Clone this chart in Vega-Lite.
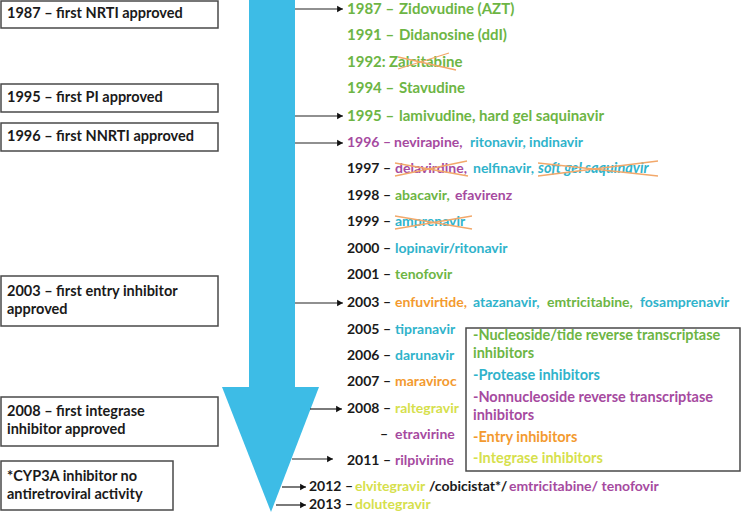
{
  "$schema": "https://vega.github.io/schema/vega-lite/v6.json",
  "width": 742,
  "height": 516,
  "padding": 0,
  "autosize": "none",
  "background": "white",
  "config": {"view": {"stroke": null}},
  "datasets": {
    "boxes": [
      {"x": 1, "x2": 218, "y": 1, "y2": 28},
      {"x": 1, "x2": 218, "y": 84, "y2": 112},
      {"x": 1, "x2": 218, "y": 123, "y2": 151},
      {"x": 1, "x2": 218, "y": 276, "y2": 326},
      {"x": 1, "x2": 218, "y": 397, "y2": 446},
      {"x": 1, "x2": 173, "y": 461, "y2": 510},
      {"x": 466, "x2": 740, "y": 328, "y2": 471}
    ],
    "boxtext": [
      {"x": 7, "y": 14, "text": "1987 – first NRTI approved"},
      {"x": 7, "y": 98, "text": "1995 – first PI approved"},
      {"x": 7, "y": 137, "text": "1996 – first NNRTI approved"},
      {"x": 7, "y": 292, "text": "2003 – first entry inhibitor"},
      {"x": 7, "y": 310, "text": "approved"},
      {"x": 7, "y": 412, "text": "2008 – first integrase"},
      {"x": 7, "y": 430, "text": "inhibitor approved"},
      {"x": 7, "y": 477, "text": "*CYP3A inhibitor no"},
      {"x": 7, "y": 495, "text": "antiretroviral activity"}
    ],
    "shaft": [{"x": 249, "x2": 295, "y": 0, "y2": 388}],
    "head": [
      {"y": 387, "x": 222, "x2": 319},
      {"y": 512, "x": 271, "x2": 271}
    ],
    "arrows": [
      {"x": 295, "x2": 343, "y": 9},
      {"x": 295, "x2": 343, "y": 116},
      {"x": 295, "x2": 343, "y": 143},
      {"x": 295, "x2": 343, "y": 303},
      {"x": 310, "x2": 342, "y": 409},
      {"x": 292, "x2": 333, "y": 459},
      {"x": 282, "x2": 306, "y": 487},
      {"x": 276, "x2": 306, "y": 505}
    ],
    "strikes": [
      {"x": 398, "y": 57, "x2": 456, "y2": 70},
      {"x": 398, "y": 69, "x2": 449, "y2": 53},
      {"x": 395, "y": 163, "x2": 468, "y2": 176},
      {"x": 395, "y": 176, "x2": 467, "y2": 161},
      {"x": 538, "y": 163, "x2": 658, "y2": 176},
      {"x": 538, "y": 176, "x2": 658, "y2": 161},
      {"x": 395, "y": 216, "x2": 472, "y2": 229},
      {"x": 395, "y": 229, "x2": 472, "y2": 216}
    ],
    "top": [
      {"x": 347, "y": 9, "text": "1987 –", "cls": "NRTI"},
      {"x": 399, "y": 9, "text": "Zidovudine (AZT)", "cls": "NRTI"},
      {"x": 347, "y": 35, "text": "1991 –", "cls": "NRTI"},
      {"x": 399, "y": 35, "text": "Didanosine (ddI)", "cls": "NRTI"},
      {"x": 347, "y": 62, "text": "1992:", "cls": "NRTI"},
      {"x": 389, "y": 62, "text": "Zalcitabine", "cls": "NRTI"},
      {"x": 347, "y": 88, "text": "1994 –", "cls": "NRTI"},
      {"x": 399, "y": 88, "text": "Stavudine", "cls": "NRTI"},
      {"x": 347, "y": 116, "text": "1995 –", "cls": "NRTI"},
      {"x": 399, "y": 116, "text": "lamivudine, hard gel saquinavir", "cls": "NRTI"}
    ],
    "entries": [
      {"x": 347, "y": 143, "text": "1996 –", "cls": "NNRTI"},
      {"x": 394, "y": 143, "text": "nevirapine,", "cls": "NNRTI"},
      {"x": 470, "y": 143, "text": "ritonavir, indinavir", "cls": "PI"},
      {"x": 347, "y": 169, "text": "1997 –", "cls": "none"},
      {"x": 395, "y": 169, "text": "delavirdine,", "cls": "NNRTI"},
      {"x": 473, "y": 169, "text": "nelfinavir,", "cls": "PI"},
      {"x": 347, "y": 196, "text": "1998 –", "cls": "none"},
      {"x": 395, "y": 196, "text": "abacavir,", "cls": "NRTI"},
      {"x": 455, "y": 196, "text": "efavirenz", "cls": "NNRTI"},
      {"x": 347, "y": 222, "text": "1999 –", "cls": "none"},
      {"x": 395, "y": 222, "text": "amprenavir", "cls": "PI"},
      {"x": 347, "y": 249, "text": "2000 –", "cls": "none"},
      {"x": 395, "y": 249, "text": "lopinavir/ritonavir", "cls": "PI"},
      {"x": 347, "y": 275, "text": "2001 –", "cls": "none"},
      {"x": 395, "y": 275, "text": "tenofovir", "cls": "NRTI"},
      {"x": 347, "y": 303, "text": "2003 –", "cls": "none"},
      {"x": 395, "y": 303, "text": "enfuvirtide,", "cls": "Entry"},
      {"x": 473, "y": 303, "text": "atazanavir,", "cls": "PI"},
      {"x": 547, "y": 303, "text": "emtricitabine,", "cls": "NRTI"},
      {"x": 640, "y": 303, "text": "fosamprenavir", "cls": "PI"},
      {"x": 347, "y": 330, "text": "2005 –", "cls": "none"},
      {"x": 395, "y": 330, "text": "tipranavir", "cls": "PI"},
      {"x": 347, "y": 356, "text": "2006 –", "cls": "none"},
      {"x": 395, "y": 356, "text": "darunavir", "cls": "PI"},
      {"x": 347, "y": 382, "text": "2007 –", "cls": "none"},
      {"x": 395, "y": 382, "text": "maraviroc", "cls": "Entry"},
      {"x": 347, "y": 409, "text": "2008 –", "cls": "none"},
      {"x": 395, "y": 409, "text": "raltegravir", "cls": "Integrase"},
      {"x": 380, "y": 435, "text": "–", "cls": "none"},
      {"x": 395, "y": 435, "text": "etravirine", "cls": "NNRTI"},
      {"x": 347, "y": 461, "text": "2011 –", "cls": "none"},
      {"x": 395, "y": 461, "text": "rilpivirine", "cls": "NNRTI"},
      {"x": 309, "y": 487, "text": "2012 –", "cls": "none"},
      {"x": 355, "y": 487, "text": "elvitegravir", "cls": "Integrase"},
      {"x": 429, "y": 487, "text": "/cobicistat*/", "cls": "none"},
      {"x": 509, "y": 487, "text": "emtricitabine/ tenofovir", "cls": "NNRTI"},
      {"x": 309, "y": 505, "text": "2013 –", "cls": "none"},
      {"x": 355, "y": 505, "text": "dolutegravir", "cls": "Integrase"}
    ],
    "legend": [
      {"x": 473, "y": 336, "text": "-Nucleoside/tide reverse transcriptase", "cls": "NRTI"},
      {"x": 473, "y": 354, "text": "inhibitors", "cls": "NRTI"},
      {"x": 473, "y": 376, "text": "-Protease inhibitors", "cls": "PI"},
      {"x": 473, "y": 398, "text": "-Nonnucleoside reverse transcriptase", "cls": "NNRTI"},
      {"x": 473, "y": 416, "text": "inhibitors", "cls": "NNRTI"},
      {"x": 473, "y": 438, "text": "-Entry inhibitors", "cls": "Entry"},
      {"x": 473, "y": 459, "text": "-Integrase inhibitors", "cls": "Integrase"}
    ],
    "italic": [
      {"x": 538, "y": 169, "text": "soft gel saquinavir", "cls": "PI"}
    ]
  },
  "encoding": {},
  "layer": [
    {
      "data": {"name": "boxes"},
      "mark": {"type": "rect", "fill": "white", "stroke": "#4a4a4a", "strokeWidth": 1.5},
      "encoding": {
        "x": {"field": "x", "type": "quantitative", "scale": {"domain": [0, 742], "nice": false, "zero": false}, "axis": null},
        "x2": {"field": "x2"},
        "y": {"field": "y", "type": "quantitative", "scale": {"domain": [0, 516], "nice": false, "zero": false, "reverse": true}, "axis": null},
        "y2": {"field": "y2"}
      }
    },
    {
      "data": {"name": "shaft"},
      "mark": {"type": "rect", "fill": "#3dbce6"},
      "encoding": {
        "x": {"field": "x", "type": "quantitative"},
        "x2": {"field": "x2"},
        "y": {"field": "y", "type": "quantitative"},
        "y2": {"field": "y2"}
      }
    },
    {
      "data": {"name": "head"},
      "mark": {"type": "area", "orient": "horizontal", "fill": "#3dbce6"},
      "encoding": {
        "y": {"field": "y", "type": "quantitative"},
        "x": {"field": "x", "type": "quantitative"},
        "x2": {"field": "x2"}
      }
    },
    {
      "data": {"name": "arrows"},
      "mark": {"type": "rule", "stroke": "#222", "strokeWidth": 1.2},
      "encoding": {
        "x": {"field": "x", "type": "quantitative"},
        "x2": {"field": "x2"},
        "y": {"field": "y", "type": "quantitative"}
      }
    },
    {
      "data": {"name": "arrows"},
      "mark": {"type": "point", "shape": "triangle-right", "filled": true, "fill": "#111", "size": 45, "opacity": 1, "xOffset": -3},
      "encoding": {
        "x": {"field": "x2", "type": "quantitative"},
        "y": {"field": "y", "type": "quantitative"}
      }
    },
    {
      "data": {"name": "boxtext"},
      "mark": {"type": "text", "align": "left", "baseline": "middle", "font": "Lato", "fontWeight": "bold", "fontSize": 14.5, "fill": "#1a1a1a"},
      "encoding": {
        "x": {"field": "x", "type": "quantitative"},
        "y": {"field": "y", "type": "quantitative"},
        "text": {"field": "text"}
      }
    },
    {
      "data": {"name": "top"},
      "mark": {"type": "text", "align": "left", "baseline": "middle", "font": "Lato", "fontWeight": "bold", "fontSize": 15},
      "encoding": {
        "x": {"field": "x", "type": "quantitative"},
        "y": {"field": "y", "type": "quantitative"},
        "text": {"field": "text"},
        "color": {"field": "cls", "type": "nominal", "legend": null,
          "scale": {"domain": ["NRTI", "PI", "NNRTI", "Entry", "Integrase", "none"],
                    "range": ["#6db544", "#2fb3cb", "#a64a9f", "#f39a2f", "#d6e04c", "#1a1a1a"]}}
      }
    },
    {
      "data": {"name": "entries"},
      "mark": {"type": "text", "align": "left", "baseline": "middle", "font": "Lato", "fontWeight": "bold", "fontSize": 14},
      "encoding": {
        "x": {"field": "x", "type": "quantitative"},
        "y": {"field": "y", "type": "quantitative"},
        "text": {"field": "text"},
        "color": {"field": "cls", "type": "nominal", "legend": null}
      }
    },
    {
      "data": {"name": "legend"},
      "mark": {"type": "text", "align": "left", "baseline": "middle", "font": "Lato", "fontWeight": "bold", "fontSize": 14.5},
      "encoding": {
        "x": {"field": "x", "type": "quantitative"},
        "y": {"field": "y", "type": "quantitative"},
        "text": {"field": "text"},
        "color": {"field": "cls", "type": "nominal", "legend": null}
      }
    },
    {
      "data": {"name": "italic"},
      "mark": {"type": "text", "align": "left", "baseline": "middle", "font": "Lato", "fontWeight": "bold", "fontStyle": "italic", "fontSize": 14.5},
      "encoding": {
        "x": {"field": "x", "type": "quantitative"},
        "y": {"field": "y", "type": "quantitative"},
        "text": {"field": "text"},
        "color": {"field": "cls", "type": "nominal", "legend": null}
      }
    },
    {
      "data": {"name": "strikes"},
      "mark": {"type": "rule", "stroke": "#f2a86a", "strokeWidth": 1.3},
      "encoding": {
        "x": {"field": "x", "type": "quantitative"},
        "x2": {"field": "x2"},
        "y": {"field": "y", "type": "quantitative"},
        "y2": {"field": "y2"}
      }
    }
  ]
}
